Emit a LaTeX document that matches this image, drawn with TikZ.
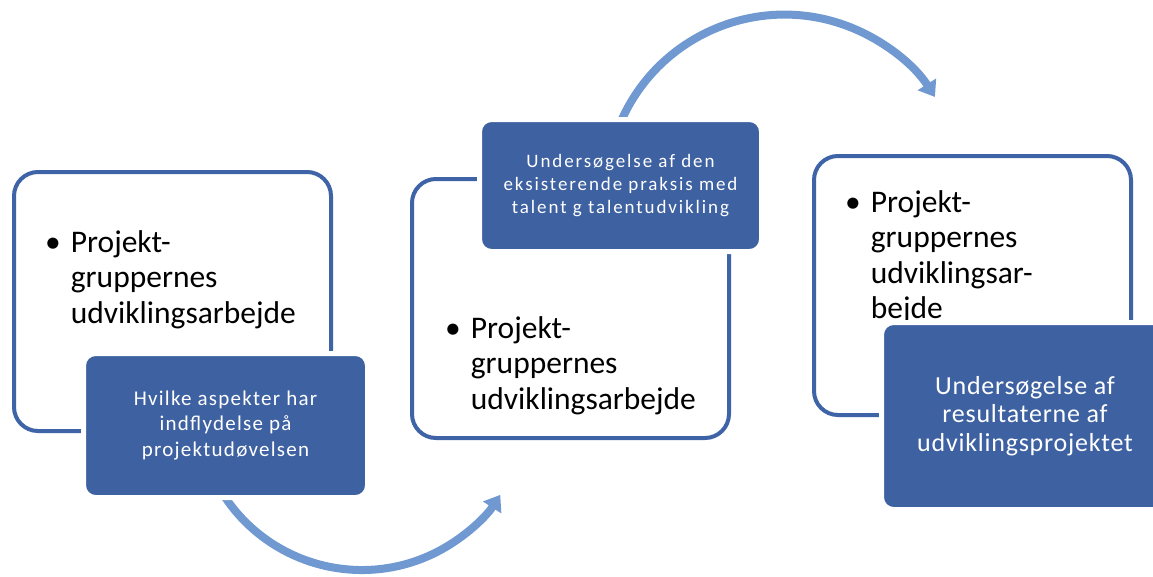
\documentclass[tikz,border=0pt]{standalone}
\usepackage{fontspec}
\setmainfont{Carlito}
\newfontfamily\notefont[LetterSpace=6]{Carlito}
\newfontfamily\notefontwide[LetterSpace=10]{Carlito}
\newfontfamily\notefontlarge[LetterSpace=3]{Carlito}
\usetikzlibrary{arrows.meta}
\definecolor{frameblue}{RGB}{62,99,166}
\definecolor{noteblue}{RGB}{62,97,161}
\definecolor{arcblue}{RGB}{112,152,209}
\begin{document}
\begin{tikzpicture}[x=1pt, y=1pt,
  stepframe/.style={draw=frameblue, line width=4pt, rounded corners=24pt, minimum width=317pt, minimum height=259pt},
  notebox/.style={fill=noteblue, draw=white, line width=5pt, rounded corners=12pt, text=white, align=center, inner sep=0pt},
  bullettext/.style={anchor=base west, inner sep=0pt, font=\fontsize{31.5}{35.5}\selectfont},
  swing/.style={arcblue, line width=8pt, -{Triangle[width=21pt,length=15pt]}}]
\useasboundingbox (0,0) rectangle (1153,-576);
% arrows between the steps
\coordinate (swing1) at (219,-487.5);
\coordinate (swing2) at (618.9,-126.3);
\draw[swing] (swing1) arc[start angle=210, end angle=327, radius=165pt];
\draw[swing] (swing2) arc[start angle=158, end angle=32.6, radius=178.6pt];
% step 1
\node[stepframe] (frame1) at (172.5,-301.5){};
\node[bullettext] (item1) at (45,-252){\begin{tabular}[t]{@{}l@{\hspace{10pt}}l@{}}• & Projekt-\\ & gruppernes\\ & udviklingsarbejde\end{tabular}};
\node[notebox, minimum width=284pt, minimum height=144pt, font=\notefont\fontsize{21}{25.5}\selectfont] (note1) at (225.5,-425.5){Hvilke aspekter har\\indflydelse på\\projektudøvelsen};
% step 2
\node[stepframe] (frame2) at (570.5,-308.5){};
\node[bullettext] (item2) at (445,-338){\begin{tabular}[t]{@{}l@{\hspace{10pt}}l@{}}• & Projekt-\\ & gruppernes\\ & udviklingsarbejde\end{tabular}};
\node[notebox, minimum width=282pt, minimum height=132pt, font=\notefontwide\fontsize{19}{23}\selectfont] (note2) at (620.5,-185.5){Undersøgelse af den\\eksisterende praksis med\\talent g talentudvikling};
% step 3
\node[stepframe] (frame3) at (972.5,-285.5){};
\node[bullettext] (item3) at (845,-212){\begin{tabular}[t]{@{}l@{\hspace{10pt}}l@{}}• & Projekt-\\ & gruppernes\\ & udviklingsar-\\ & bejde\end{tabular}};
\node[notebox, minimum width=287pt, minimum height=187pt, font=\notefontlarge\fontsize{26}{28.5}\selectfont] (note3) at (1025,-416){Undersøgelse af\\resultaterne af\\udviklingsprojektet};
\end{tikzpicture}
\end{document}
